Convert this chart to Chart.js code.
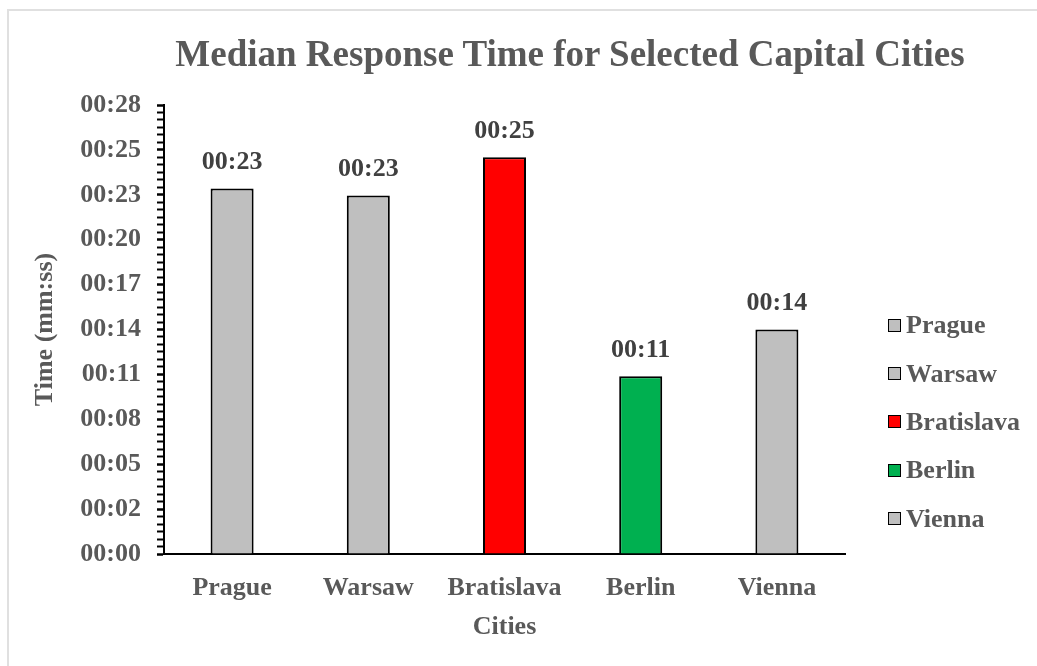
<!DOCTYPE html>
<html>
<head>
<meta charset="utf-8">
<title>Median Response Time for Selected Capital Cities</title>
<script src="https://cdn.jsdelivr.net/npm/chart.js@4.4.1/dist/chart.umd.min.js"></script>
<style>
  html, body { margin: 0; padding: 0; background: #fff; }
  #wrap { position: relative; width: 1037px; height: 666px; overflow: hidden;
          font-family: "Liberation Serif", "Times New Roman", serif; }
  #frame { position: absolute; left: 7px; top: 9px; width: 1200px; height: 800px;
           border: 2px solid #e0e0e0; box-sizing: border-box; }
  #chart { position: absolute; left: 0; top: 0; }
  #title { position: absolute; left: 70px; top: 32px; width: 1000px; margin: 0;
           text-align: center; font-size: 37px; font-weight: bold; line-height: 44px; color: #595959; }
  #legend { position: absolute; left: 888px; top: 301px; margin: 0; padding: 0; list-style: none;
            font-size: 26px; font-weight: bold; color: #595959; }
  #legend li { height: 48.4px; display: flex; align-items: center; white-space: nowrap; }
  #legend .box { width: 11px; height: 11px; border: 1.5px solid #000; margin-right: 5px; flex: none; }
</style>
</head>
<body>
<div id="wrap">
  <div id="frame"></div>
  <canvas id="chart" width="1037" height="666"></canvas>
  <h1 id="title">Median Response Time for Selected Capital Cities</h1>
  <ul id="legend"></ul>
</div>
<script>
const cities = ['Prague', 'Warsaw', 'Bratislava', 'Berlin', 'Vienna'];
// median response time in seconds
const responseSeconds = [23.45, 23.0, 25.45, 11.4, 14.4];
const barColors = ['#bfbfbf', '#bfbfbf', '#ff0000', '#00b050', '#bfbfbf'];
// axis runs 0 .. 28.8 s, labelled every 2.88 s with minor ticks in between
const axisMax = 28.8;
const majorStep = 2.88;
const minorPerMajor = 6;

const serif = '"Liberation Serif", "Times New Roman", serif';
const textGray = '#595959';

// mm:ss with whole seconds (fraction dropped)
function mmss(sec) {
  const s = Math.floor(sec + 1e-6);
  const m = Math.floor(s / 60);
  return String(m).padStart(2, '0') + ':' + String(s % 60).padStart(2, '0');
}

const valueLabels = {
  id: 'valueLabels',
  afterDatasetsDraw(chart) {
    const ctx = chart.ctx;
    const meta = chart.getDatasetMeta(0);
    ctx.save();
    ctx.font = 'bold 26px ' + serif;
    ctx.fillStyle = '#404040';
    ctx.textAlign = 'center';
    ctx.textBaseline = 'middle';
    meta.data.forEach((bar, i) => {
      ctx.fillText(mmss(chart.data.datasets[0].data[i]), bar.x, bar.y - 26);
    });
    ctx.restore();
  }
};

const ctx = document.getElementById('chart').getContext('2d');
const chart = new Chart(ctx, {
  type: 'bar',
  data: {
    labels: cities,
    datasets: [{
      label: 'Median Response Time',
      data: responseSeconds,
      backgroundColor: barColors,
      borderColor: '#000',
      borderWidth: 2,
      barPercentage: 0.316,
      categoryPercentage: 1
    }]
  },
  options: {
    responsive: false,
    animation: false,
    layout: { padding: { left: 0, right: 192, top: 105, bottom: 0 } },
    plugins: {
      legend: { display: false },
      tooltip: { enabled: false }
    },
    scales: {
      x: {
        grid: { display: false, drawTicks: false },
        border: { display: true, color: '#000', width: 2 },
        afterFit: s => { s.height = 112; },
        ticks: {
          color: textGray,
          padding: 19,
          maxRotation: 0,
          font: { family: serif, size: 26, weight: 'bold' }
        },
        title: {
          display: true,
          text: 'Cities',
          color: textGray,
          font: { family: serif, size: 26, weight: 'bold' },
          padding: { top: 7, bottom: 23 }
        }
      },
      y: {
        min: 0,
        max: axisMax,
        afterFit: s => { s.width = 164; },
        grid: {
          drawOnChartArea: false,
          drawTicks: true,
          tickLength: 7,
          tickColor: '#000',
          tickWidth: c => (c.index % minorPerMajor === 0 ? 2.5 : 2)
        },
        border: { display: true, color: '#000', width: 2 },
        ticks: {
          stepSize: majorStep / minorPerMajor,
          autoSkip: false,
          color: textGray,
          padding: 16,
          font: { family: serif, size: 26, weight: 'bold' },
          callback: (v, i) => (i % minorPerMajor === 0 ? mmss(v) : '')
        },
        title: {
          display: true,
          text: 'Time (mm:ss)',
          color: textGray,
          font: { family: serif, size: 26, weight: 'bold' },
          padding: { top: 30, bottom: 10 }
        }
      }
    }
  },
  plugins: [valueLabels]
});

// legend list built from the chart's own categories and colours
const legend = document.getElementById('legend');
chart.data.labels.forEach((name, i) => {
  const li = document.createElement('li');
  const box = document.createElement('span');
  box.className = 'box';
  box.style.background = chart.data.datasets[0].backgroundColor[i];
  li.appendChild(box);
  li.appendChild(document.createTextNode(name));
  legend.appendChild(li);
});
</script>
</body>
</html>
